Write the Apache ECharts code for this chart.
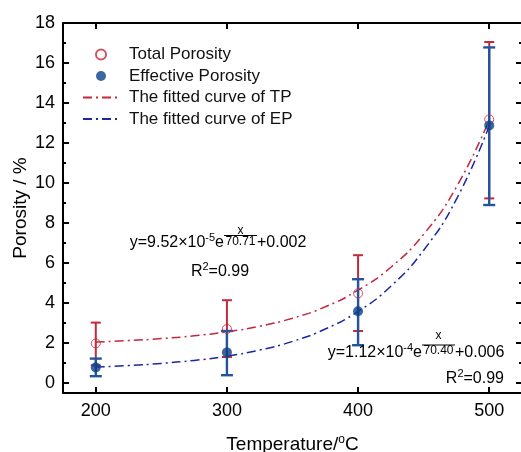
<!DOCTYPE html>
<html>
<head>
<meta charset="utf-8">
<script src="https://cdn.jsdelivr.net/npm/echarts@6/dist/echarts.min.js"></script>
<style>
html, body { margin: 0; padding: 0; background: #fff; }
#chart { width: 521px; height: 452px; }
</style>
</head>
<body>
<div id="chart"></div>
<script>
// measured points
var temps = [200, 300, 400, 500];
var totalPorosity = [1.98, 2.7, 4.48, 13.18];
var totalLow = [0.88, 1.3, 2.6, 9.23];
var totalHigh = [3.02, 4.14, 6.39, 17.05];
var effectivePorosity = [0.78, 1.53, 3.59, 12.88];
var effectiveLow = [0.34, 0.39, 1.89, 8.9];
var effectiveHigh = [1.22, 2.6, 5.19, 16.78];

// fitted curves
var curveX = [200, 225, 250, 275, 300, 325, 350, 375, 400, 425, 450, 475, 500];
var fitTP = [2.05, 2.12, 2.22, 2.36, 2.56, 2.84, 3.24, 3.81, 4.64, 5.79, 7.44, 9.8, 13.15];
var fitEP = [0.8, 0.87, 0.98, 1.13, 1.34, 1.65, 2.08, 2.7, 3.58, 4.84, 6.64, 9.19, 12.85];

var xTicks = [200, 300, 400, 500];
var yTicks = [0, 2, 4, 6, 8, 10, 12, 14, 16, 18];
var yMinorTicks = [1, 3, 5, 7, 9, 11, 13, 15, 17];

var FONT = 'Liberation Sans, Arial, sans-serif';
var RED = '#c4283b';
var BLUE_BAR = '#22559c';
var BLUE_DOT = '#0c3e8a';
var BLUE_LINE = '#1b27a3';

var chart = echarts.init(document.getElementById('chart'));

function pairs(xs, ys) {
    return xs.map(function (x, i) { return [x, ys[i]]; });
}

function errorData(lo, hi) {
    return temps.map(function (t, i) { return [t, lo[i], hi[i]]; });
}

function errorBar(color, capWidth, lineWidth) {
    return function (params, api) {
        var x = api.value(0);
        var lo = api.coord([x, api.value(1)]);
        var hi = api.coord([x, api.value(2)]);
        var half = capWidth / 2;
        var style = { stroke: color, lineWidth: lineWidth };
        return {
            type: 'group',
            children: [
                { type: 'line', shape: { x1: hi[0], y1: hi[1], x2: lo[0], y2: lo[1] }, style: style },
                { type: 'line', shape: { x1: hi[0] - half, y1: hi[1], x2: hi[0] + half, y2: hi[1] }, style: style },
                { type: 'line', shape: { x1: lo[0] - half, y1: lo[1], x2: lo[0] + half, y2: lo[1] }, style: style }
            ]
        };
    };
}

function axisLine(show) {
    return { show: show, onZero: false, lineStyle: { color: '#000', width: 2 } };
}

function xAxisOf(pos, showLabel) {
    return {
        type: 'value',
        position: pos,
        min: 175,
        max: 525,
        axisLine: axisLine(true),
        axisTick: { inside: true, length: 6, customValues: xTicks, lineStyle: { color: '#000', width: 2 } },
        axisLabel: { show: showLabel, customValues: xTicks, color: '#000', fontSize: 18, fontFamily: FONT, margin: 9 },
        splitLine: { show: false }
    };
}

function yAxisOf(pos, ticks, len, showLabel, showLine) {
    return {
        type: 'value',
        position: pos,
        min: -0.5,
        max: 18,
        axisLine: axisLine(showLine),
        axisTick: { inside: true, length: len, customValues: ticks, lineStyle: { color: '#000', width: 2 } },
        axisLabel: { show: showLabel, customValues: ticks, color: '#000', fontSize: 18, fontFamily: FONT, margin: 8 },
        splitLine: { show: false }
    };
}

var xMain = xAxisOf('bottom', true);
xMain.name = 'Temperature/{sup|o}C';
xMain.nameLocation = 'middle';
xMain.nameGap = 41;
xMain.nameMoveOverlap = false;
xMain.nameTextStyle = {
    color: '#000', fontSize: 19, fontFamily: FONT,
    rich: { sup: { fontSize: 12, fontFamily: FONT, color: '#000', padding: [0, 0, 10, 0] } }
};

var yMain = yAxisOf('left', yTicks, 6, true, true);
yMain.name = 'Porosity / %';
yMain.nameLocation = 'middle';
yMain.nameGap = 33;
yMain.nameMoveOverlap = false;
yMain.nameTextStyle = { color: '#000', fontSize: 19, fontFamily: FONT };

var supRich = { sup: { fontSize: 11, fontFamily: FONT, fill: '#000', padding: [0, 0, 10, 0] } };

function txt(x, y, text, align, size) {
    return {
        type: 'text', x: x, y: y, z: 10,
        style: {
            text: text, fill: '#000', fontSize: size || 16, fontFamily: FONT,
            align: align, verticalAlign: 'middle', rich: supRich
        }
    };
}

function bar(x1, x2, y) {
    return { type: 'line', z: 10, shape: { x1: x1, y1: y, x2: x2, y2: y }, style: { stroke: '#000', lineWidth: 1 } };
}

var options = {
    animation: false,
    backgroundColor: '#fff',
    grid: { left: 63, right: -1, top: 23, bottom: 59, outerBoundsMode: 'none', containLabel: false },
    legend: {
        orient: 'vertical',
        left: 82,
        top: 46,
        padding: 0,
        itemWidth: 36,
        itemHeight: 10,
        itemGap: 4.5,
        textStyle: { color: '#111', fontSize: 17, fontFamily: FONT, padding: [0, 0, 0, 5] },
        data: [
            'Total Porosity',
            'Effective Porosity',
            { name: 'The fitted curve of TP', itemStyle: { opacity: 0 } },
            { name: 'The fitted curve of EP', itemStyle: { opacity: 0 } }
        ]
    },
    xAxis: [xMain, xAxisOf('top', false)],
    yAxis: [
        yMain,
        yAxisOf('right', yTicks, 6, false, true),
        yAxisOf('left', yMinorTicks, 3, false, false),
        yAxisOf('right', yMinorTicks, 3, false, false)
    ],
    series: [
        {
            name: 'The fitted curve of TP',
            type: 'line',
            data: pairs(curveX, fitTP),
            smooth: 0.5,
            symbol: 'none',
            z: 1,
            lineStyle: { color: RED, width: 1.5, type: [9, 4, 2, 4] },
            itemStyle: { color: RED }
        },
        {
            name: 'The fitted curve of EP',
            type: 'line',
            data: pairs(curveX, fitEP),
            smooth: 0.5,
            symbol: 'none',
            z: 1,
            lineStyle: { color: BLUE_LINE, width: 1.5, type: [9, 4, 2, 4] },
            itemStyle: { color: BLUE_LINE }
        },
        {
            name: 'TP error',
            type: 'custom',
            renderItem: errorBar(RED, 10, 2),
            encode: { x: 0, y: [1, 2] },
            data: errorData(totalLow, totalHigh),
            z: 2
        },
        {
            name: 'EP error',
            type: 'custom',
            renderItem: errorBar(BLUE_BAR, 12, 2.4),
            encode: { x: 0, y: [1, 2] },
            data: errorData(effectiveLow, effectiveHigh),
            z: 3
        },
        {
            name: 'Total Porosity',
            type: 'scatter',
            data: pairs(temps, totalPorosity),
            symbol: 'circle',
            symbolSize: 9,
            z: 4,
            itemStyle: { color: 'rgba(255,255,255,0)', borderColor: RED, borderWidth: 1 }
        },
        {
            name: 'Effective Porosity',
            type: 'scatter',
            data: pairs(temps, effectivePorosity),
            symbol: 'circle',
            symbolSize: 10,
            z: 5,
            itemStyle: { color: BLUE_DOT }
        }
    ],
    graphic: [
        txt(224, 243, 'y=9.52×10{sup|-5}e', 'right'),
        txt(240.5, 231, 'x', 'center', 12),
        bar(224, 257, 235.5),
        txt(240.5, 241.5, '70.71', 'center', 12),
        txt(257, 243, '+0.002', 'left'),
        txt(220, 272, 'R{sup|2}=0.99', 'center'),

        txt(422, 353, 'y=1.12×10{sup|-4}e', 'right'),
        txt(438.5, 336, 'x', 'center', 12),
        bar(422, 455, 345),
        txt(438.5, 351, '70.40', 'center', 12),
        txt(455, 353, '+0.006', 'left'),
        txt(504, 379, 'R{sup|2}=0.99', 'right')
    ]
};

chart.setOption(options);
</script>
</body>
</html>
